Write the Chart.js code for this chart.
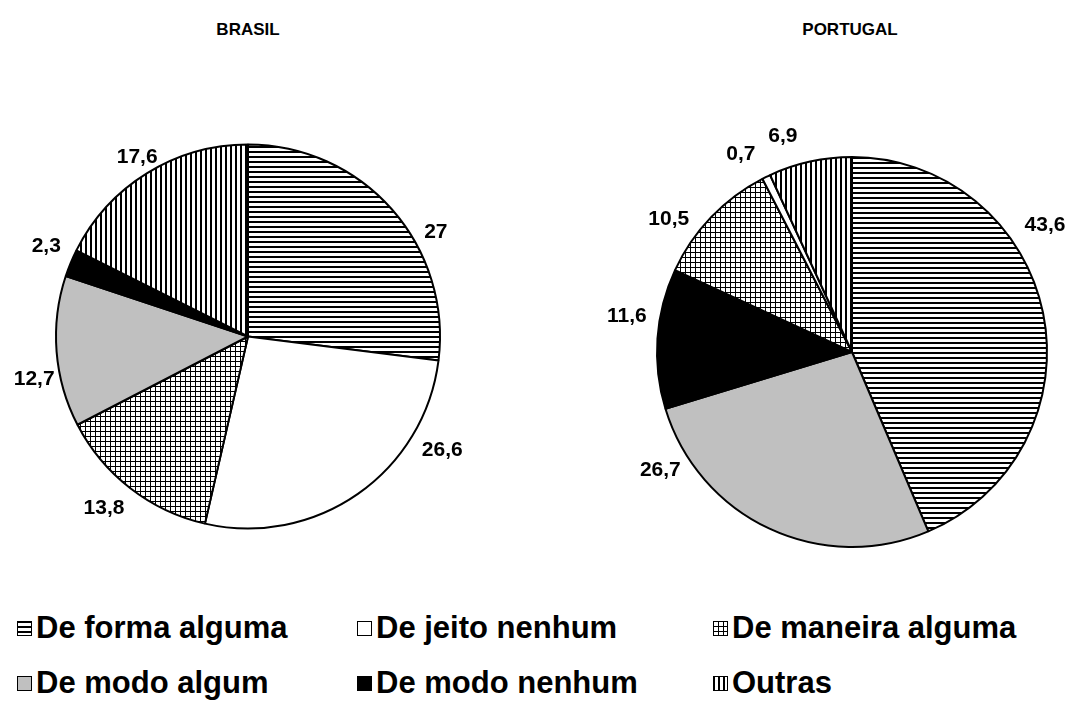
<!DOCTYPE html>
<html>
<head>
<meta charset="utf-8">
<title>De forma alguma</title>
<script src="https://cdn.jsdelivr.net/npm/chart.js@4.4.1/dist/chart.umd.min.js"></script>
<style>
  html, body { margin: 0; padding: 0; background: #fff; }
  body { width: 1066px; height: 711px; position: relative; overflow: hidden; font-family: Arial, "Liberation Sans", sans-serif; color: #000; }
  .title { position: absolute; top: 20px; font-weight: bold; font-size: 17px; line-height: 20px; transform: translateX(-50%); }
  .pie { position: absolute; }
  .legend-item { position: absolute; display: flex; align-items: center; font-weight: bold; font-size: 31px; line-height: 34px; white-space: nowrap; }
  .legend-item canvas { margin-right: 4px; }
</style>
</head>
<body>
<div class="title" style="left:248px">BRASIL</div>
<div class="title" style="left:850px">PORTUGAL</div>
<div class="pie" style="left:0px; top:96px; width:496px; height:481px"><canvas id="brasil"></canvas></div>
<div class="pie" style="left:600px; top:112px; width:504px; height:480px"><canvas id="portugal"></canvas></div>
<div id="legend"></div>
<script>
const categories = ['De forma alguma', 'De jeito nenhum', 'De maneira alguma', 'De modo algum', 'De modo nenhum', 'Outras'];
const brasilValues = [27, 26.6, 13.8, 12.7, 2.3, 17.6];
const portugalValues = [43.6, 0.7, 10.5, 26.7, 11.6, 6.9];
// slice order around each pie, clockwise from 12 o'clock (indexes into categories)
const brasilOrder = [0, 1, 2, 3, 4, 5];
const portugalOrder = [0, 3, 4, 2, 1, 5];

// fill style per category
const fillKinds = ['hlines', 'white', 'grid', 'gray', 'black', 'vlines'];

function makeFill(kind) {
  if (kind === 'white') return '#ffffff';
  if (kind === 'gray') return '#c0c0c0';
  if (kind === 'black') return '#000000';
  const tile = document.createElement('canvas');
  tile.width = 5; tile.height = 5;
  const t = tile.getContext('2d');
  t.fillStyle = '#fff';
  t.fillRect(0, 0, 5, 5);
  t.fillStyle = '#000';
  if (kind === 'hlines') t.fillRect(0, 0, 5, 2);
  if (kind === 'vlines') t.fillRect(0, 0, 2, 5);
  if (kind === 'grid') { t.fillRect(0, 0, 5, 1); t.fillRect(0, 0, 1, 5); }
  return t.createPattern(tile, 'repeat');
}

const fills = fillKinds.map(makeFill);

// value labels outside each slice; nudge (deg) and gap (px) per slice
const sliceLabels = {
  id: 'sliceLabels',
  afterDatasetsDraw(chart, args, opts) {
    const ctx = chart.ctx;
    const meta = chart.getDatasetMeta(0);
    const data = chart.data.datasets[0].data;
    ctx.save();
    ctx.font = 'bold 21px Arial, "Liberation Sans", sans-serif';
    ctx.fillStyle = '#000';
    ctx.textAlign = 'center';
    ctx.textBaseline = 'middle';
    meta.data.forEach((arc, i) => {
      const p = arc.getProps(['x', 'y', 'startAngle', 'endAngle', 'outerRadius'], true);
      const a = (p.startAngle + p.endAngle) / 2 + (opts.nudge[i] || 0) * Math.PI / 180;
      const d = p.outerRadius + (opts.gap[i] || 25);
      ctx.fillText(String(data[i]).replace('.', ','), p.x + Math.cos(a) * d, p.y + Math.sin(a) * d);
    });
    ctx.restore();
  }
};

function makePie(id, values, order, radius, nudge, gap) {
  return new Chart(document.getElementById(id), {
    type: 'pie',
    data: {
      labels: order.map(i => categories[i]),
      datasets: [{
        data: order.map(i => values[i]),
        backgroundColor: order.map(i => fills[i]),
        borderColor: '#000',
        borderWidth: 2,
        radius: radius
      }]
    },
    options: {
      responsive: true,
      maintainAspectRatio: false,
      animation: false,
      layout: { padding: 0 },
      plugins: {
        legend: { display: false },
        tooltip: { enabled: false },
        sliceLabels: { nudge: nudge, gap: gap }
      }
    },
    plugins: [sliceLabels]
  });
}

makePie('brasil', brasilValues, brasilOrder, 192, [12.3, -24.8, 2.2, -6.7, 1.6, 0], [23, 33, 32, 26, 29, 19]);
makePie('portugal', portugalValues, portugalOrder, 195, [-21.8, 33.4, 5.0, -7.9, -3.2, -5.3], [36, 30, 33, 31, 32, 32]);

// legend, two rows of three
const legendCols = [17, 357, 713];
const legendRows = [628, 683];
const legend = document.getElementById('legend');
categories.forEach((name, i) => {
  const item = document.createElement('div');
  item.className = 'legend-item';
  item.style.left = legendCols[i % 3] + 'px';
  item.style.top = (legendRows[Math.floor(i / 3)] - 17) + 'px';
  const sw = document.createElement('canvas');
  sw.width = 15; sw.height = 15;
  const c = sw.getContext('2d');
  c.fillStyle = fills[i];
  c.fillRect(0, 0, 15, 15);
  c.strokeStyle = '#000';
  c.lineWidth = 1;
  c.strokeRect(0.5, 0.5, 14, 14);
  item.appendChild(sw);
  item.appendChild(document.createTextNode(name));
  legend.appendChild(item);
});
</script>
</body>
</html>
